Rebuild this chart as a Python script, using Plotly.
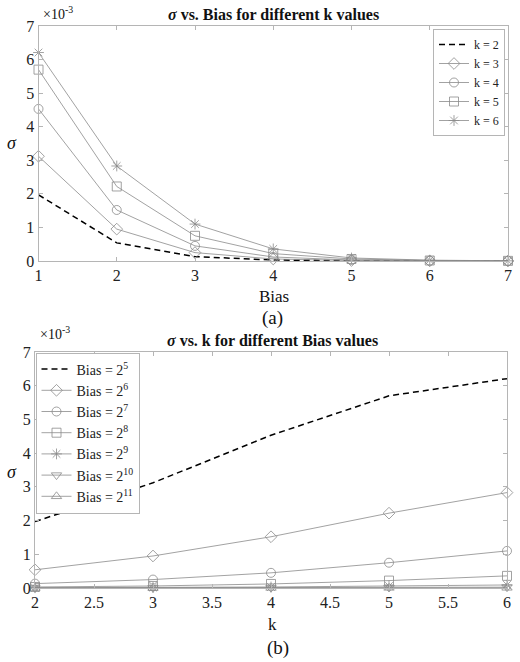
import plotly.graph_objects as go

# Data (sigma in units of 1e-3)
bias_idx = [1, 2, 3, 4, 5, 6, 7]
bias_labels = ["2<sup>5</sup>", "2<sup>6</sup>", "2<sup>7</sup>", "2<sup>8</sup>", "2<sup>9</sup>", "2<sup>10</sup>", "2<sup>11</sup>"]
k_vals = [2, 3, 4, 5, 6]
sigma_k2 = [1.97, 0.54, 0.13, 0.03, 0.008, 0.002, 0.0005]
sigma_k3 = [3.12, 0.95, 0.25, 0.06, 0.015, 0.004, 0.001]
sigma_k4 = [4.53, 1.52, 0.45, 0.12, 0.03, 0.008, 0.002]
sigma_k5 = [5.70, 2.22, 0.75, 0.22, 0.06, 0.015, 0.004]
sigma_k6 = [6.21, 2.83, 1.10, 0.36, 0.09, 0.025, 0.006]
sigma_rows = [sigma_k2, sigma_k3, sigma_k4, sigma_k5, sigma_k6]

W, H = 520, 662
FONT = "Liberation Serif"
GRAY = "#8a8a8a"
AXC = "#b5b5b5"

def px(x):
    return x / W

def py(y):
    return 1 - y / H

top_symbols = [None, "diamond-open", "circle-open", "square-open", "asterisk-open"]
bot_symbols = [None, "diamond-open", "circle-open", "square-open", "asterisk-open", "triangle-down-open", "triangle-up-open"]

fig = go.Figure()

# Top: sigma vs Bias for each k
for i, k in enumerate(k_vals):
    if i == 0:
        fig.add_trace(go.Scatter(x=bias_idx, y=sigma_rows[i], mode="lines", name=f"k = {k}",
                                 line=dict(color="black", width=1.5, dash="6px,4px"),
                                 xaxis="x", yaxis="y", legend="legend", cliponaxis=False))
    else:
        fig.add_trace(go.Scatter(x=bias_idx, y=sigma_rows[i], mode="lines+markers", name=f"k = {k}",
                                 line=dict(color=GRAY, width=0.8),
                                 marker=dict(symbol=top_symbols[i], size=9, color=GRAY, line=dict(width=0.8, color=GRAY)),
                                 xaxis="x", yaxis="y", legend="legend", cliponaxis=False))

# Bottom: sigma vs k for each Bias
for j, bl in enumerate(bias_labels):
    ys = [row[j] for row in sigma_rows]
    if j == 0:
        fig.add_trace(go.Scatter(x=k_vals, y=ys, mode="lines", name=f"Bias = {bl}",
                                 line=dict(color="black", width=1.5, dash="6px,4px"),
                                 xaxis="x2", yaxis="y2", legend="legend2", cliponaxis=False))
    else:
        fig.add_trace(go.Scatter(x=k_vals, y=ys, mode="lines+markers", name=f"Bias = {bl}",
                                 line=dict(color=GRAY, width=0.8),
                                 marker=dict(symbol=bot_symbols[j], size=9, color=GRAY, line=dict(width=0.8, color=GRAY)),
                                 xaxis="x2", yaxis="y2", legend="legend2", cliponaxis=False))

axis_common = dict(showline=True, linecolor=AXC, linewidth=1, mirror="ticks", ticks="inside",
                   ticklen=4, tickcolor=AXC, showgrid=False, zeroline=False, automargin=False,
                   tickfont=dict(family=FONT, size=16, color="#222"))

fig.update_layout(
    width=W, height=H, margin=dict(l=0, r=0, t=0, b=0, autoexpand=False),
    paper_bgcolor="white", plot_bgcolor="white",
    font=dict(family=FONT, color="#222"),
    xaxis=dict(domain=[px(38.5), px(508)], range=[1, 7], tickvals=bias_idx, anchor="y", **axis_common),
    yaxis=dict(domain=[py(261), py(26)], range=[0, 7], tickvals=[0, 1, 2, 3, 4, 5, 6, 7], anchor="x", **axis_common),
    xaxis2=dict(domain=[px(35), px(507)], range=[2, 6], tickvals=[2, 2.5, 3, 3.5, 4, 4.5, 5, 5.5, 6],
                ticktext=["2", "2.5", "3", "3.5", "4", "4.5", "5", "5.5", "6"], anchor="y2", **axis_common),
    yaxis2=dict(domain=[py(588), py(352)], range=[0, 7], tickvals=[0, 1, 2, 3, 4, 5, 6, 7], anchor="x2", **axis_common),
    legend=dict(x=px(505), y=py(29), xanchor="right", yanchor="top", bgcolor="white",
                bordercolor=AXC, borderwidth=1, font=dict(family=FONT, size=12, color="#222"),
                tracegroupgap=0, itemwidth=30),
    legend2=dict(x=px(35.5), y=py(352.5), xanchor="left", yanchor="top", bgcolor="white",
                 bordercolor=AXC, borderwidth=1, font=dict(family=FONT, size=14, color="#222"),
                 tracegroupgap=0, itemwidth=30),
    showlegend=True,
)

ann = [
    dict(x=px(273), y=py(14), text="<b><i>σ</i> vs. Bias for different k values</b>", size=16),
    dict(x=px(272), y=py(340), text="<b><i>σ</i> vs. k for different Bias values</b>", size=16),
    dict(x=px(58), y=py(13), text="×10<sup>-3</sup>", size=14),
    dict(x=px(55), y=py(333), text="×10<sup>-3</sup>", size=14),
    dict(x=px(274), y=py(296), text="Bias", size=17),
    dict(x=px(272), y=py(624), text="k", size=17),
    dict(x=px(12), y=py(143), text="<i>σ</i>", size=18),
    dict(x=px(12), y=py(472), text="<i>σ</i>", size=18),
    dict(x=px(272), y=py(318), text="(a)", size=19),
    dict(x=px(278), y=py(648), text="(b)", size=19),
]
for a in ann:
    fig.add_annotation(xref="paper", yref="paper", showarrow=False, xanchor="center", yanchor="middle",
                       font=dict(family=FONT, color="#111", size=a["size"]), x=a["x"], y=a["y"], text=a["text"])

fig.write_html("out.html", config={"displayModeBar": False},
               post_script="document.body.style.margin='0px';document.body.style.overflow='hidden';")
